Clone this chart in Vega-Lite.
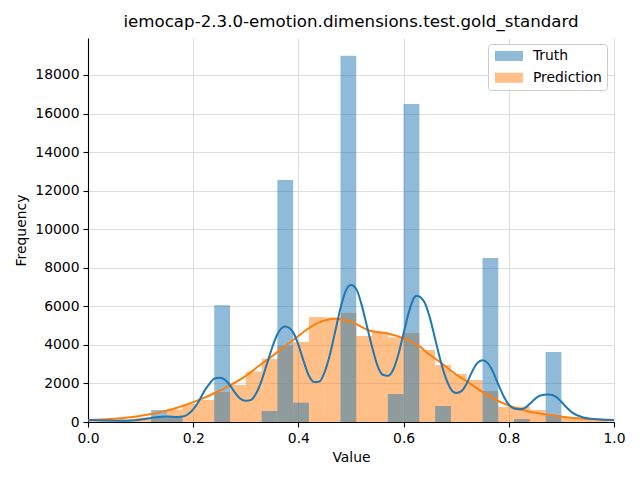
{
  "$schema": "https://vega.github.io/schema/vega-lite/v6.json",
  "width": 526,
  "height": 384,
  "autosize": {"type": "none"},
  "padding": {"left": 88, "top": 38, "right": 26, "bottom": 58},
  "background": "white",
  "title": {
    "text": "iemocap-2.3.0-emotion.dimensions.test.gold_standard",
    "font": "DejaVu Sans",
    "fontSize": 16.67,
    "fontWeight": "normal",
    "color": "#000000",
    "anchor": "middle",
    "baseline": "alphabetic",
    "offset": 7,
    "dy": 13
  },
  "config": {
    "view": {"stroke": null},
    "axis": {
      "labelFont": "DejaVu Sans",
      "labelFontSize": 13.9,
      "labelColor": "#000000",
      "labelFlush": false,
      "titleFont": "DejaVu Sans",
      "titleFontSize": 13.9,
      "titleFontWeight": "normal",
      "titleColor": "#000000",
      "domainColor": "#000000",
      "domainWidth": 1.1,
      "tickColor": "#000000",
      "tickSize": 5,
      "tickWidth": 1.1,
      "labelPadding": 4,
      "gridColor": "#dddddd",
      "gridWidth": 1
    }
  },
  "datasets": {
    "bars": [
      {"series": "Prediction", "x0": 0.00, "x1": 0.03, "count": 40},
      {"series": "Prediction", "x0": 0.03, "x1": 0.06, "count": 80},
      {"series": "Prediction", "x0": 0.06, "x1": 0.09, "count": 140},
      {"series": "Prediction", "x0": 0.09, "x1": 0.12, "count": 220},
      {"series": "Prediction", "x0": 0.12, "x1": 0.15, "count": 245},
      {"series": "Prediction", "x0": 0.15, "x1": 0.18, "count": 650},
      {"series": "Prediction", "x0": 0.18, "x1": 0.21, "count": 930},
      {"series": "Prediction", "x0": 0.21, "x1": 0.24, "count": 1140},
      {"series": "Prediction", "x0": 0.24, "x1": 0.27, "count": 1550},
      {"series": "Prediction", "x0": 0.27, "x1": 0.30, "count": 1920},
      {"series": "Prediction", "x0": 0.30, "x1": 0.33, "count": 2610},
      {"series": "Prediction", "x0": 0.33, "x1": 0.36, "count": 3270},
      {"series": "Prediction", "x0": 0.36, "x1": 0.39, "count": 3960},
      {"series": "Prediction", "x0": 0.39, "x1": 0.42, "count": 4150},
      {"series": "Prediction", "x0": 0.42, "x1": 0.45, "count": 5450},
      {"series": "Prediction", "x0": 0.45, "x1": 0.48, "count": 5420},
      {"series": "Prediction", "x0": 0.48, "x1": 0.51, "count": 5650},
      {"series": "Prediction", "x0": 0.51, "x1": 0.54, "count": 4460},
      {"series": "Prediction", "x0": 0.54, "x1": 0.57, "count": 4650},
      {"series": "Prediction", "x0": 0.57, "x1": 0.60, "count": 4390},
      {"series": "Prediction", "x0": 0.60, "x1": 0.63, "count": 4620},
      {"series": "Prediction", "x0": 0.63, "x1": 0.66, "count": 3730},
      {"series": "Prediction", "x0": 0.66, "x1": 0.69, "count": 2960},
      {"series": "Prediction", "x0": 0.69, "x1": 0.72, "count": 2490},
      {"series": "Prediction", "x0": 0.72, "x1": 0.75, "count": 2180},
      {"series": "Prediction", "x0": 0.75, "x1": 0.78, "count": 1610},
      {"series": "Prediction", "x0": 0.78, "x1": 0.81, "count": 780},
      {"series": "Prediction", "x0": 0.81, "x1": 0.84, "count": 800},
      {"series": "Prediction", "x0": 0.84, "x1": 0.87, "count": 620},
      {"series": "Prediction", "x0": 0.87, "x1": 0.90, "count": 330},
      {"series": "Prediction", "x0": 0.90, "x1": 0.93, "count": 260},
      {"series": "Prediction", "x0": 0.93, "x1": 0.96, "count": 140},
      {"series": "Prediction", "x0": 0.96, "x1": 0.99, "count": 70},
      {"series": "Prediction", "x0": 0.99, "x1": 1.00, "count": 30},
      {"series": "Truth", "x0": 0.12, "x1": 0.15, "count": 620},
      {"series": "Truth", "x0": 0.15, "x1": 0.18, "count": 250},
      {"series": "Truth", "x0": 0.24, "x1": 0.27, "count": 6060},
      {"series": "Truth", "x0": 0.33, "x1": 0.36, "count": 570},
      {"series": "Truth", "x0": 0.36, "x1": 0.39, "count": 12550},
      {"series": "Truth", "x0": 0.39, "x1": 0.42, "count": 1000},
      {"series": "Truth", "x0": 0.48, "x1": 0.51, "count": 18990},
      {"series": "Truth", "x0": 0.57, "x1": 0.60, "count": 1450},
      {"series": "Truth", "x0": 0.60, "x1": 0.63, "count": 16490},
      {"series": "Truth", "x0": 0.66, "x1": 0.69, "count": 830},
      {"series": "Truth", "x0": 0.75, "x1": 0.78, "count": 8500},
      {"series": "Truth", "x0": 0.81, "x1": 0.84, "count": 155},
      {"series": "Truth", "x0": 0.87, "x1": 0.90, "count": 3630}
    ],
    "kde": [
      {"series": "Prediction", "x": 0.0, "count": 100},
      {"series": "Prediction", "x": 0.05, "count": 170},
      {"series": "Prediction", "x": 0.095, "count": 300},
      {"series": "Prediction", "x": 0.158, "count": 650},
      {"series": "Prediction", "x": 0.203, "count": 1055},
      {"series": "Prediction", "x": 0.253, "count": 1660},
      {"series": "Prediction", "x": 0.298, "count": 2350},
      {"series": "Prediction", "x": 0.327, "count": 2957},
      {"series": "Prediction", "x": 0.342, "count": 3250},
      {"series": "Prediction", "x": 0.39, "count": 4253},
      {"series": "Prediction", "x": 0.435, "count": 5118},
      {"series": "Prediction", "x": 0.47, "count": 5360},
      {"series": "Prediction", "x": 0.504, "count": 5152},
      {"series": "Prediction", "x": 0.536, "count": 4737},
      {"series": "Prediction", "x": 0.568, "count": 4600},
      {"series": "Prediction", "x": 0.599, "count": 4342},
      {"series": "Prediction", "x": 0.631, "count": 3908},
      {"series": "Prediction", "x": 0.65, "count": 3475},
      {"series": "Prediction", "x": 0.669, "count": 3120},
      {"series": "Prediction", "x": 0.688, "count": 2700},
      {"series": "Prediction", "x": 0.726, "count": 2007},
      {"series": "Prediction", "x": 0.764, "count": 1314},
      {"series": "Prediction", "x": 0.802, "count": 830},
      {"series": "Prediction", "x": 0.84, "count": 536},
      {"series": "Prediction", "x": 0.878, "count": 363},
      {"series": "Prediction", "x": 0.929, "count": 190},
      {"series": "Prediction", "x": 1.0, "count": 100},
      {"series": "Truth", "x": 0.0, "count": 100},
      {"series": "Truth", "x": 0.03, "count": 80},
      {"series": "Truth", "x": 0.06, "count": 60},
      {"series": "Truth", "x": 0.09, "count": 90},
      {"series": "Truth", "x": 0.11, "count": 170},
      {"series": "Truth", "x": 0.13, "count": 250},
      {"series": "Truth", "x": 0.15, "count": 280},
      {"series": "Truth", "x": 0.17, "count": 260},
      {"series": "Truth", "x": 0.18, "count": 280},
      {"series": "Truth", "x": 0.19, "count": 400},
      {"series": "Truth", "x": 0.20, "count": 650},
      {"series": "Truth", "x": 0.21, "count": 1050},
      {"series": "Truth", "x": 0.22, "count": 1550},
      {"series": "Truth", "x": 0.23, "count": 1950},
      {"series": "Truth", "x": 0.24, "count": 2250},
      {"series": "Truth", "x": 0.25, "count": 2300},
      {"series": "Truth", "x": 0.26, "count": 2200},
      {"series": "Truth", "x": 0.27, "count": 1900},
      {"series": "Truth", "x": 0.28, "count": 1500},
      {"series": "Truth", "x": 0.29, "count": 1200},
      {"series": "Truth", "x": 0.30, "count": 1100},
      {"series": "Truth", "x": 0.31, "count": 1150},
      {"series": "Truth", "x": 0.32, "count": 1500},
      {"series": "Truth", "x": 0.33, "count": 2150},
      {"series": "Truth", "x": 0.34, "count": 3000},
      {"series": "Truth", "x": 0.35, "count": 3850},
      {"series": "Truth", "x": 0.36, "count": 4550},
      {"series": "Truth", "x": 0.375, "count": 4950},
      {"series": "Truth", "x": 0.39, "count": 4650},
      {"series": "Truth", "x": 0.40, "count": 4000},
      {"series": "Truth", "x": 0.41, "count": 3150},
      {"series": "Truth", "x": 0.42, "count": 2400},
      {"series": "Truth", "x": 0.43, "count": 2070},
      {"series": "Truth", "x": 0.44, "count": 2100},
      {"series": "Truth", "x": 0.45, "count": 2600},
      {"series": "Truth", "x": 0.46, "count": 3500},
      {"series": "Truth", "x": 0.47, "count": 4700},
      {"series": "Truth", "x": 0.48, "count": 5900},
      {"series": "Truth", "x": 0.49, "count": 6800},
      {"series": "Truth", "x": 0.50, "count": 7100},
      {"series": "Truth", "x": 0.51, "count": 6900},
      {"series": "Truth", "x": 0.52, "count": 6100},
      {"series": "Truth", "x": 0.53, "count": 5000},
      {"series": "Truth", "x": 0.54, "count": 3900},
      {"series": "Truth", "x": 0.55, "count": 2950},
      {"series": "Truth", "x": 0.56, "count": 2450},
      {"series": "Truth", "x": 0.57, "count": 2400},
      {"series": "Truth", "x": 0.58, "count": 2700},
      {"series": "Truth", "x": 0.59, "count": 3500},
      {"series": "Truth", "x": 0.60, "count": 4600},
      {"series": "Truth", "x": 0.61, "count": 5700},
      {"series": "Truth", "x": 0.62, "count": 6450},
      {"series": "Truth", "x": 0.625, "count": 6550},
      {"series": "Truth", "x": 0.64, "count": 6200},
      {"series": "Truth", "x": 0.65, "count": 5400},
      {"series": "Truth", "x": 0.66, "count": 4300},
      {"series": "Truth", "x": 0.67, "count": 3200},
      {"series": "Truth", "x": 0.68, "count": 2300},
      {"series": "Truth", "x": 0.69, "count": 1700},
      {"series": "Truth", "x": 0.70, "count": 1500},
      {"series": "Truth", "x": 0.71, "count": 1600},
      {"series": "Truth", "x": 0.72, "count": 2000},
      {"series": "Truth", "x": 0.73, "count": 2600},
      {"series": "Truth", "x": 0.74, "count": 3050},
      {"series": "Truth", "x": 0.75, "count": 3200},
      {"series": "Truth", "x": 0.76, "count": 3050},
      {"series": "Truth", "x": 0.77, "count": 2600},
      {"series": "Truth", "x": 0.78, "count": 1950},
      {"series": "Truth", "x": 0.79, "count": 1350},
      {"series": "Truth", "x": 0.80, "count": 900},
      {"series": "Truth", "x": 0.81, "count": 700},
      {"series": "Truth", "x": 0.82, "count": 660},
      {"series": "Truth", "x": 0.83, "count": 720},
      {"series": "Truth", "x": 0.84, "count": 950},
      {"series": "Truth", "x": 0.85, "count": 1200},
      {"series": "Truth", "x": 0.86, "count": 1380},
      {"series": "Truth", "x": 0.875, "count": 1420},
      {"series": "Truth", "x": 0.89, "count": 1300},
      {"series": "Truth", "x": 0.90, "count": 1050},
      {"series": "Truth", "x": 0.91, "count": 750},
      {"series": "Truth", "x": 0.92, "count": 500},
      {"series": "Truth", "x": 0.94, "count": 250},
      {"series": "Truth", "x": 0.96, "count": 150},
      {"series": "Truth", "x": 0.98, "count": 120},
      {"series": "Truth", "x": 1.0, "count": 100}
    ]
  },
  "layer": [
    {
      "data": {"name": "bars"},
      "mark": {"type": "rect", "opacity": 0.5, "clip": true},
      "encoding": {
        "x": {
          "field": "x0", "type": "quantitative",
          "scale": {"domain": [0, 1], "nice": false, "zero": false},
          "axis": {"title": "Value", "values": [0, 0.2, 0.4, 0.6, 0.8, 1.0], "format": ".1f", "grid": true, "titlePadding": 6}
        },
        "x2": {"field": "x1"},
        "y": {
          "field": "count", "type": "quantitative",
          "scale": {"domain": [0, 19917], "nice": false},
          "axis": {"title": "Frequency", "values": [0, 2000, 4000, 6000, 8000, 10000, 12000, 14000, 16000, 18000], "format": "d", "grid": true, "titlePadding": 6}
        },
        "y2": {"datum": 0},
        "fill": {
          "field": "series", "type": "nominal",
          "scale": {"domain": ["Truth", "Prediction"], "range": ["#1f77b4", "#ff7f0e"]},
          "legend": {
            "title": null,
            "orient": "none",
            "legendX": 400,
            "legendY": 6,
            "fillColor": "white",
            "strokeColor": "#cccccc",
            "cornerRadius": 3,
            "padding": 5,
            "symbolType": "M-2.8,-1L2.8,-1L2.8,1L-2.8,1Z",
            "symbolSize": 100,
            "symbolOffset": 9,
            "symbolOpacity": 0.5,
            "symbolStrokeWidth": 0,
            "labelOffset": 17,
            "labelFont": "DejaVu Sans",
            "labelFontSize": 13.9,
            "labelColor": "#000000",
            "rowPadding": 6.8
          }
        }
      }
    },
    {
      "data": {"name": "kde"},
      "mark": {"type": "line", "strokeWidth": 2, "interpolate": "monotone", "clip": true},
      "encoding": {
        "x": {"field": "x", "type": "quantitative"},
        "y": {"field": "count", "type": "quantitative"},
        "stroke": {
          "field": "series", "type": "nominal",
          "scale": {"domain": ["Truth", "Prediction"], "range": ["#1f77b4", "#ff7f0e"]},
          "legend": null
        }
      }
    }
  ]
}
